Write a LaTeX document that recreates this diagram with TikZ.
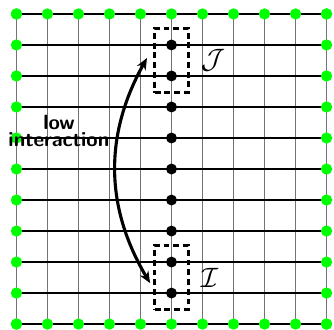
\documentclass[tikz,border=0pt]{standalone}
\usepackage{amsmath,amssymb}
\usepackage{xcolor}
\usepackage{tikz}
\usetikzlibrary{positioning,arrows.meta,fit}

\begin{document}
\begin{tikzpicture}[
        x=0.56cm, y=0.56cm,
        bnd/.style={circle, fill=green, inner sep=0pt, minimum size=5.8pt},
        site/.style={circle, fill=black, inner sep=0pt, minimum size=5.6pt},
        region/.style={draw, line width=1.5pt, dash pattern=on 3pt off 2pt, inner sep=5.6pt},
        hop/.style={{Stealth[length=6pt,width=5pt]}-{Stealth[length=6pt,width=5pt]}, line width=1.6pt},
    ]
    \useasboundingbox (-0.53,-0.16) rectangle (10.24,10.45);
    % lattice
    \foreach \i in {0,...,10}
        \draw[black!55, line width=0.8pt] (\i,0) -- (\i,10);
    \foreach \j in {0,...,10}
        \draw[black, line width=0.7pt] (0,\j) -- (10,\j);
    % boundary sites
    \foreach \k in {0,...,10} {
        \node[bnd] (bot-\k) at (\k,0) {};
        \node[bnd] (top-\k) at (\k,10) {};
        \node[bnd] (lft-\k) at (0,\k) {};
        \node[bnd] (rgt-\k) at (10,\k) {};
    }
    % chain
    \foreach \j in {1,...,9}
        \node[site] (v-\j) at (5,\j) {};

    \node[region, fit=(v-8)(v-9)] (jbox) {};
    \node[region, fit=(v-1)(v-2)] (ibox) {};
    \node[right=4.5pt of jbox, font=\Large, inner sep=1pt] (jlab) {$\mathcal{J}$};
    \node[right=4.5pt of ibox, font=\Large, inner sep=1pt] (ilab) {$\mathcal{I}$};

    \coordinate (jtip) at (4.21,8.58);
    \coordinate (itip) at (4.31,1.32);
    \draw[hop] (jtip) to[bend right=30] (itip);

    \node[font=\fontsize{10.6}{12}\sffamily\bfseries, align=center, inner sep=0pt] (lowint) at (1.37,6.23)
        {low\\[-3pt]interaction};
\end{tikzpicture}
\end{document}
